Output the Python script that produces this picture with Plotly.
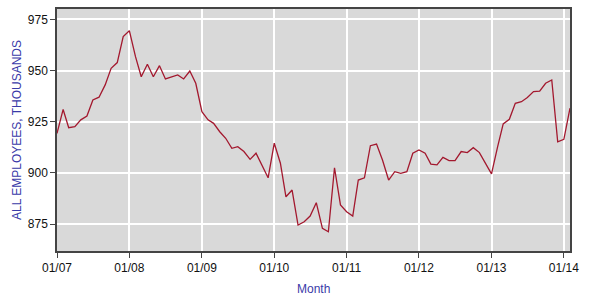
import plotly.graph_objects as go
import pandas as pd

months = pd.date_range("2007-01-01", "2014-02-01", freq="MS")
employees = [
    919.3, 931.0, 922.1, 922.6, 925.9, 927.8, 935.6, 937.0, 943.0, 951.1, 953.9, 966.6,
    969.5, 956.8, 947.0, 953.1, 947.0, 952.4, 945.9, 947.0, 947.9, 945.9, 949.8, 943.8,
    929.9, 925.9, 924.2, 920.1, 916.9, 912.0, 912.8, 910.4, 906.6, 909.6, 903.5, 897.6,
    914.5, 904.7, 888.3, 891.6, 874.5, 876.1, 878.9, 885.4, 872.9, 871.2, 902.5, 884.3,
    881.0, 878.9, 896.5, 897.6, 913.3, 914.1, 906.3, 896.5, 900.6, 899.8, 900.6, 909.6,
    911.2, 909.6, 904.3, 903.9, 907.6, 906.0, 906.0, 910.4, 909.9, 912.3, 909.9, 904.7,
    899.5, 912.8, 923.9, 926.2, 934.0, 934.8, 936.8, 939.7, 940.0, 943.8, 945.4, 915.2,
    916.4, 931.6,
]
tick_dates = pd.date_range("2007-01-01", "2014-01-01", freq="YS")
tick_labels = ["01/07", "01/08", "01/09", "01/10", "01/11", "01/12", "01/13", "01/14"]
y_ticks = [875, 900, 925, 950, 975]

fig = go.Figure()
fig.add_trace(go.Scatter(
    x=months, y=employees, mode="lines",
    line=dict(color="#a3182e", width=1.3),
))
fig.update_layout(
    width=590, height=299,
    margin=dict(l=57, r=20, t=9, b=48),
    paper_bgcolor="white", plot_bgcolor="#d9d9d9",
    showlegend=False,
    font=dict(family="Liberation Sans, Arial, sans-serif", size=12, color="#111111"),
)
fig.update_xaxes(
    range=[pd.Timestamp("2007-01-01"), pd.Timestamp("2014-02-01")],
    tickvals=tick_dates, ticktext=tick_labels,
    showgrid=True, gridcolor="white", gridwidth=1.5,
    ticks="outside", ticklen=5, tickcolor="#444444",
    showline=True, linecolor="#444444", linewidth=1.5, mirror=True,
    zeroline=False, automargin=False,
)
fig.update_yaxes(
    range=[861.8, 980.1],
    tickvals=y_ticks,
    showgrid=True, gridcolor="white", gridwidth=1.5,
    ticks="outside", ticklen=5, tickcolor="#444444",
    showline=True, linecolor="#444444", linewidth=1.5, mirror=True,
    title=dict(text="ALL EMPLOYEES, THOUSANDS", font=dict(color="#3a3aa8", size=12), standoff=4),
    zeroline=False, automargin=False,
)
fig.add_annotation(
    text="Month", xref="paper", yref="paper", x=0.5, y=-0.155,
    yanchor="middle", xanchor="center", showarrow=False,
    font=dict(color="#3a3aa8", size=12),
)
fig.write_html("out.html")
